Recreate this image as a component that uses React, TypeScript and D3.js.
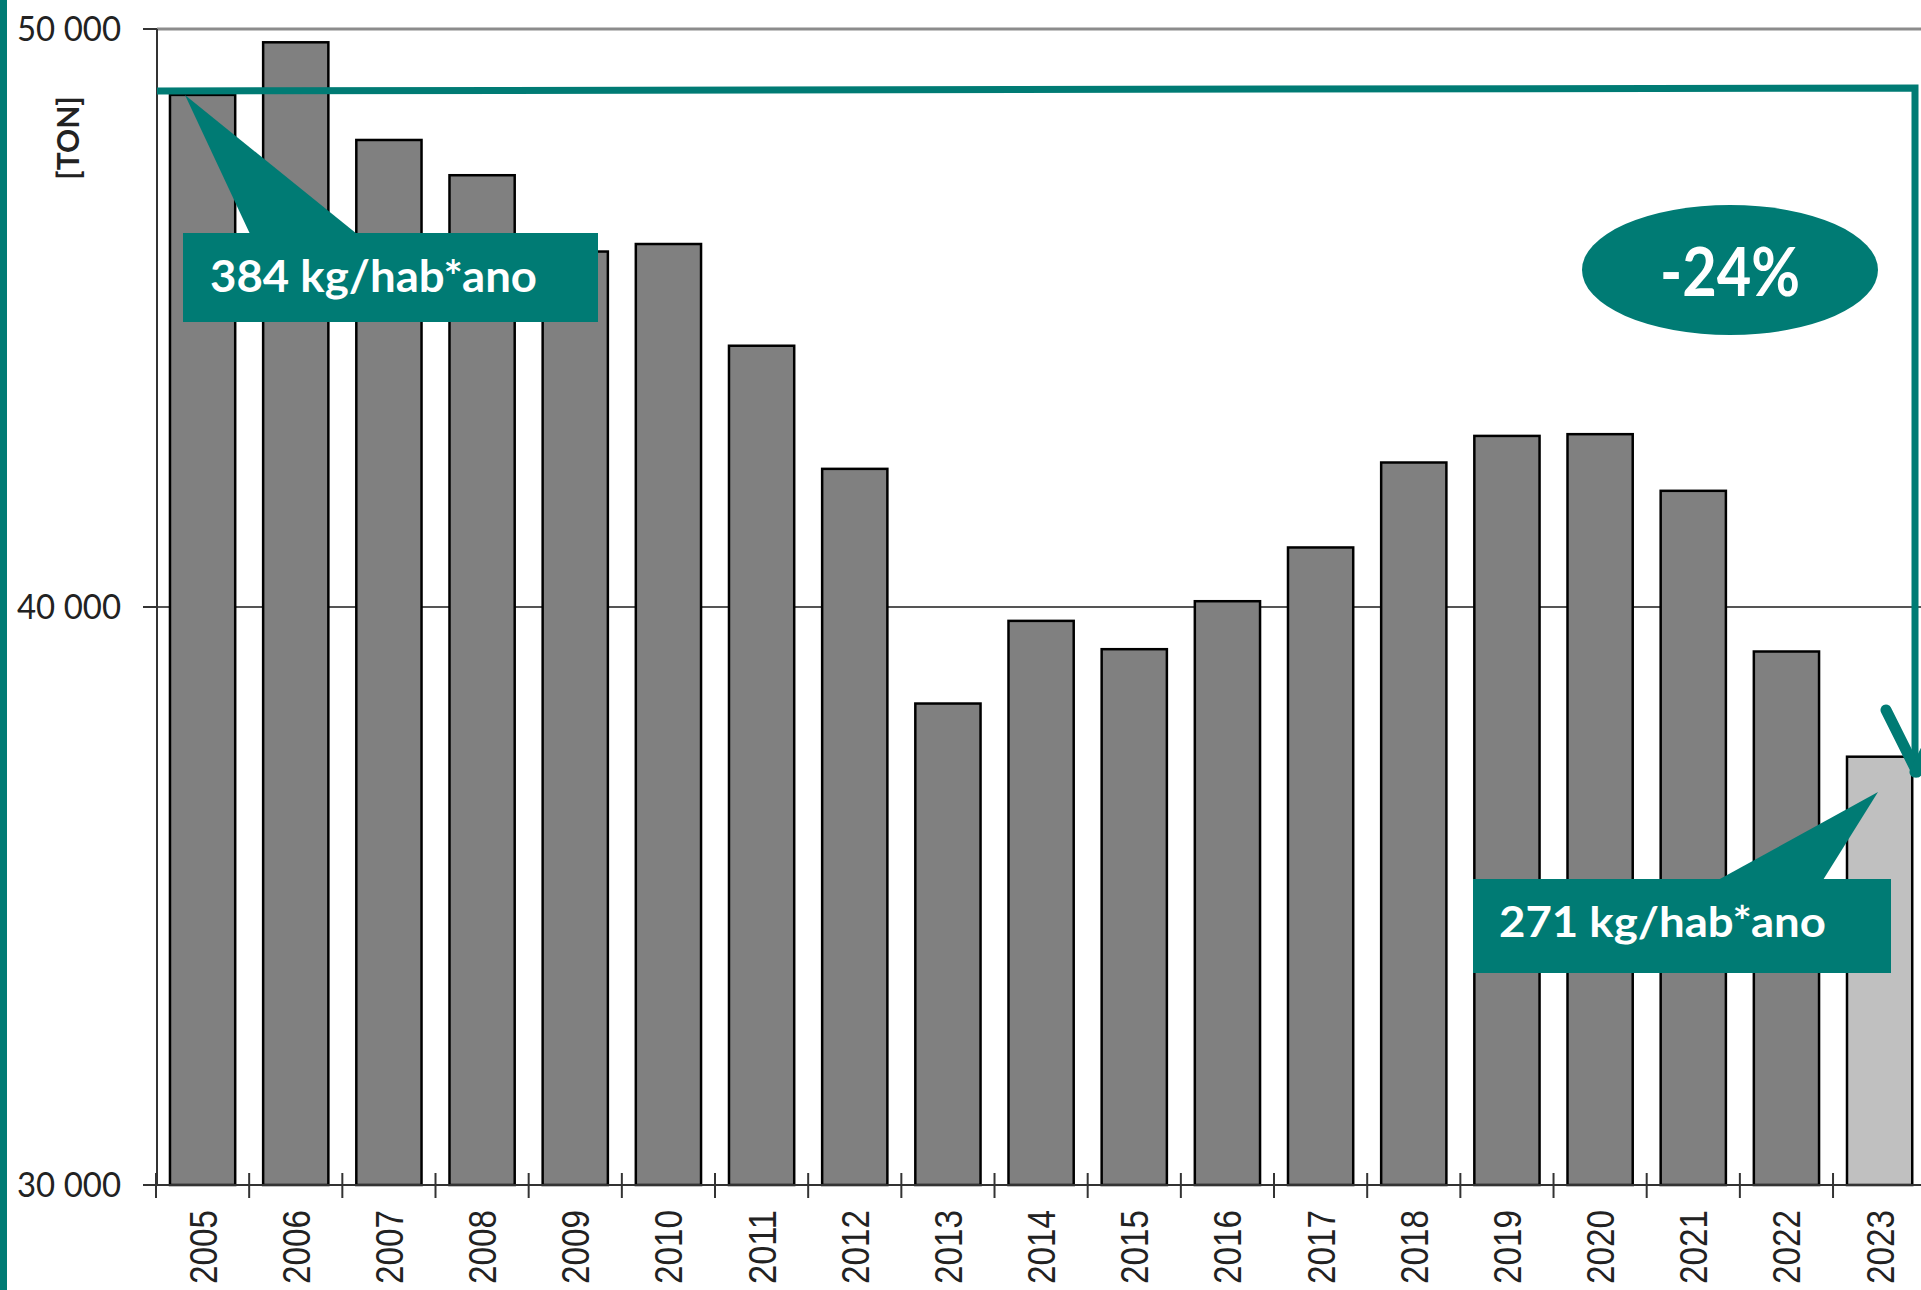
import React from "react";
import * as d3 from "d3";

const years = ["2005","2006","2007","2008","2009","2010","2011","2012","2013","2014","2015","2016","2017","2018","2019","2020","2021","2022","2023"];
const tonnes = [48860, 49770, 48080, 47470, 46150, 46280, 44520, 42390, 38330, 39760, 39270, 40100, 41030, 42500, 42960, 42990, 42010, 39230, 37410];
const yTicks = [30000, 40000, 50000];
const highlightYear = "2023";
const axisTitle = "[TON]";
const firstLabel = "384 kg/hab*ano";
const lastLabel = "271 kg/hab*ano";
const changeLabel = "-24%";

const TEAL = "#007B74";
const W = 1921;
const H = 1290;

const fmt = d3.formatLocale({ decimal: ",", thousands: "\u00A0", grouping: [3], currency: ["", ""] }).format(",d");

export default function App() {
  const x = d3.scaleBand<string>().domain(years).range([156, 1926.2]).paddingInner(0.3).paddingOuter(0.15);
  const y = d3.scaleLinear().domain([30000, 50000]).range([1185, 29]);
  const step = x.step();
  const boundaries = d3.range(years.length + 1).map((i) => 156 + i * step);

  return (
    <div style={{ position: "fixed", left: 0, top: 0, width: W, height: H, overflow: "hidden", background: "#fff" }}>
      <svg width={W} height={H} style={{ display: "block" }}>
        <rect x={0} y={0} width={W} height={H} fill="#fff" />
        {/* left teal strip */}
        <rect x={0} y={0} width={7} height={H} fill={TEAL} />

        {/* gridlines */}
        {yTicks.filter((t) => t !== 30000).map((t) => (
          <line key={"g" + t} x1={157} x2={W} y1={y(t)} y2={y(t)}
            stroke={t === 50000 ? "#8c8c8c" : "#555"} strokeWidth={t === 50000 ? 3 : 2} />
        ))}

        {/* bars */}
        {years.map((yr, i) => (
          <rect key={yr} x={x(yr)} y={y(tonnes[i])} width={x.bandwidth()} height={y(30000) - y(tonnes[i])}
            fill={yr === highlightYear ? "#C0C0C0" : "#808080"} stroke="#000" strokeWidth={2.5} />
        ))}

        {/* y axis */}
        <line x1={157} x2={157} y1={y(50000)} y2={y(30000)} stroke="#333" strokeWidth={2} />
        {yTicks.map((t) => (
          <g key={"t" + t}>
            <line x1={143} x2={157} y1={y(t)} y2={y(t)} stroke="#333" strokeWidth={2} />
            <text x={121} y={y(t) + 12} textAnchor="end" fontFamily="Lato, 'Open Sans', sans-serif" fontSize={34}
              fill="#222" textLength={104} lengthAdjust="spacingAndGlyphs">{fmt(t)}</text>
          </g>
        ))}

        {/* x axis */}
        <line x1={143} x2={W} y1={y(30000)} y2={y(30000)} stroke="#333" strokeWidth={2} />
        {boundaries.map((bx, i) => (
          <line key={"xt" + i} x1={bx} x2={bx} y1={1173} y2={1198} stroke="#333" strokeWidth={2} />
        ))}
        {years.map((yr) => {
          const cx = (x(yr) as number) + x.bandwidth() / 2;
          return (
            <text key={"l" + yr} transform={`translate(${cx},1210) rotate(-90)`} textAnchor="end" dy="0.36em"
              fontFamily="'Liberation Sans', Arial, sans-serif" fontSize={39} fill="#222"
              textLength={74} lengthAdjust="spacingAndGlyphs">{yr}</text>
          );
        })}

        {/* axis title */}
        <text transform="translate(68,138) rotate(-90)" textAnchor="middle" dy="0.36em"
          fontFamily="Lato, sans-serif" fontWeight="bold" fontSize={30} fill="#222">{axisTitle}</text>

        {/* bracket arrow */}
        <polyline points="157,91 1915,88 1915,768" fill="none" stroke={TEAL} strokeWidth={7} />
        <line x1={1886} y1={710} x2={1917} y2={772} stroke={TEAL} strokeWidth={11} strokeLinecap="round" />
        <line x1={1946} y1={710} x2={1915} y2={772} stroke={TEAL} strokeWidth={11} strokeLinecap="round" />

        {/* callout 1 */}
        <polygon points="185,95 250,234 357,234" fill={TEAL} />
        <rect x={183} y={233} width={415} height={89} fill={TEAL} />
        <text x={210} y={292} fontFamily="Lato, sans-serif" fontWeight="bold" fontSize={44} fill="#fff"
          textLength={327} lengthAdjust="spacingAndGlyphs">{firstLabel}</text>

        {/* callout 2 */}
        <polygon points="1878,792 1718,880 1823,880" fill={TEAL} />
        <rect x={1473} y={879} width={418} height={94} fill={TEAL} />
        <text x={1499} y={937} fontFamily="Lato, sans-serif" fontWeight="bold" fontSize={42} fill="#fff"
          textLength={327} lengthAdjust="spacingAndGlyphs">{lastLabel}</text>

        {/* ellipse */}
        <ellipse cx={1730} cy={270} rx={148} ry={65} fill={TEAL} />
        <text x={1730} y={296} textAnchor="middle" fontFamily="Lato, sans-serif" fontWeight="bold" fontSize={67}
          fill="#fff" textLength={140} lengthAdjust="spacingAndGlyphs">{changeLabel}</text>
      </svg>
    </div>
  );
}
